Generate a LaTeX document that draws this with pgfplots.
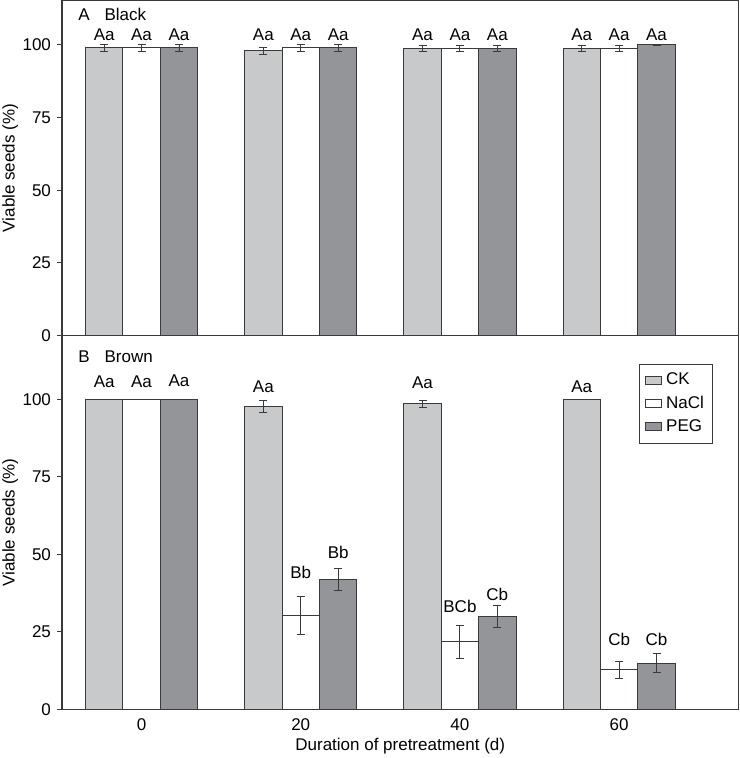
\documentclass[border=0pt]{standalone}
\usepackage{fontspec}
\setmainfont{Liberation Sans}
\usepackage{pgfplots}
\pgfplotsset{compat=1.18}
\definecolor{ckgray}{HTML}{C8C9CB}
\definecolor{peggray}{HTML}{939599}
\definecolor{edge}{HTML}{3A3A3A}

\newcommand{\fs}{\fontsize{8.5}{10}\selectfont}
\tikzset{lab/.style={font=\fs, anchor=center}}

\pgfplotsset{
  panel/.style={
    scale only axis, width=338.5pt,
    xmin=-10, xmax=75, ymin=0,
    ytick={0,25,50,75,100},
    tick pos=left, tick align=inside,
    axis line style={edge, line width=0.6pt},
    tick style={edge, line width=0.5pt},
    ytick style={/pgfplots/major tick length=2.5pt, xshift=-2.5pt},
    xtick style={/pgfplots/major tick length=3pt},
    yticklabel style={xshift=-2pt},
    xticklabel style={yshift=-1.2pt},
    font=\fs,
    ylabel={Viable seeds (\%)},
    every axis y label/.append style={at={(axis description cs:-0.0765,0.5)}, anchor=center, inner sep=0pt},
    /pgf/number format/assume math mode=true,
    error bars/error bar style={edge, line width=0.45pt},
    error bars/error mark options={edge, rotate=90, mark size=2pt, line width=0.45pt},
  },
  bars/.style={ybar, bar width=4.7, bar shift=0, draw=edge, line width=0.5pt,
    error bars/y dir=both, error bars/y explicit},
}

\begin{document}
\begin{tikzpicture}
\path (-31pt,-24.35pt) rectangle (339.2pt,354.9pt);

% Panel A: black seeds (bars at duration -4.7 / +0 / +4.7)
\begin{axis}[panel, at={(0,187pt)}, anchor=south west,
  height=167.5pt, ymax=115.2, xtick=\empty]
\addplot[bars, fill=ckgray] coordinates {(-4.7,99) +- (0,1.1) (15.3,98) +- (0,1.1) (35.3,98.9) +- (0,1.1) (55.3,98.8) +- (0,1.1)};
\addplot[bars, fill=white] coordinates {(0,99) +- (0,1.1) (20,99) +- (0,1.1) (40,98.9) +- (0,1.1) (60,98.8) +- (0,1.1)};
\addplot[bars, fill=peggray] coordinates {(4.7,99) +- (0,1.1) (24.7,99) +- (0,1.1) (44.7,98.9) +- (0,1.1) (64.7,100) +- (0,0)};
\node[anchor=west, inner sep=0pt, font=\fs] at (rel axis cs:0.0236,0.958) {A\hspace{7.5pt}Black};
\node[lab] at (axis cs:-4.7,103.4) {Aa};
\node[lab] at (axis cs:0,103.4) {Aa};
\node[lab] at (axis cs:4.7,103.4) {Aa};
\node[lab] at (axis cs:15.3,103.4) {Aa};
\node[lab] at (axis cs:20,103.4) {Aa};
\node[lab] at (axis cs:24.7,103.4) {Aa};
\node[lab] at (axis cs:35.3,103.4) {Aa};
\node[lab] at (axis cs:40,103.4) {Aa};
\node[lab] at (axis cs:44.7,103.4) {Aa};
\node[lab] at (axis cs:55.3,103.4) {Aa};
\node[lab] at (axis cs:60,103.4) {Aa};
\node[lab] at (axis cs:64.7,103.6) {Aa};
\end{axis}

% Panel B: brown seeds
\begin{axis}[panel, at={(0,0)}, anchor=south west,
  height=187pt, ymax=120.65, xtick={0,20,40,60},
  xlabel={Duration of pretreatment (d)},
  every axis x label/.append style={at={(axis description cs:0.5,0)}, yshift=-18.5pt, anchor=center, inner sep=0pt},
  legend style={at={(rel axis cs:0.963,0.925)}, anchor=north east,
    draw=edge, line width=0.5pt, inner sep=2.5pt, row sep=0pt,
    font=\fs, legend cell align=left},
  legend image code/.code={\draw[#1, line width=0.5pt] (0pt,-1.9pt) rectangle (8.3pt,1.9pt);}]
\addplot[bars, fill=ckgray] coordinates {(-4.7,100) +- (0,0) (15.3,97.8) +- (0,2.0) (35.3,98.7) +- (0,1.1) (55.3,100) +- (0,0)};
\addplot[bars, fill=white] coordinates {(0,100) +- (0,0) (20,30.2) +- (0,6.1) (40,21.8) +- (0,5.3) (60,12.7) +- (0,2.8)};
\addplot[bars, fill=peggray] coordinates {(4.7,100) +- (0,0) (24.7,41.9) +- (0,3.5) (44.7,29.9) +- (0,3.5) (64.7,14.9) +- (0,3.0)};
\legend{CK, NaCl, PEG}
\node[anchor=west, inner sep=0pt, font=\fs] at (rel axis cs:0.0236,0.944) {B\hspace{7.5pt}Brown};
\node[lab] at (axis cs:-4.7,105.7) {Aa};
\node[lab] at (axis cs:0,105.7) {Aa};
\node[lab] at (axis cs:4.7,106) {Aa};
\node[lab] at (axis cs:15.3,104.1) {Aa};
\node[lab] at (axis cs:20,44.1) {Bb};
\node[lab] at (axis cs:24.7,50.5) {Bb};
\node[lab] at (axis cs:35.3,105.5) {Aa};
\node[lab] at (axis cs:40,33.3) {BCb};
\node[lab] at (axis cs:44.7,37.2) {Cb};
\node[lab] at (axis cs:55.3,104.1) {Aa};
\node[lab] at (axis cs:60,22.7) {Cb};
\node[lab] at (axis cs:64.7,22.7) {Cb};
\end{axis}
\end{tikzpicture}
\end{document}
